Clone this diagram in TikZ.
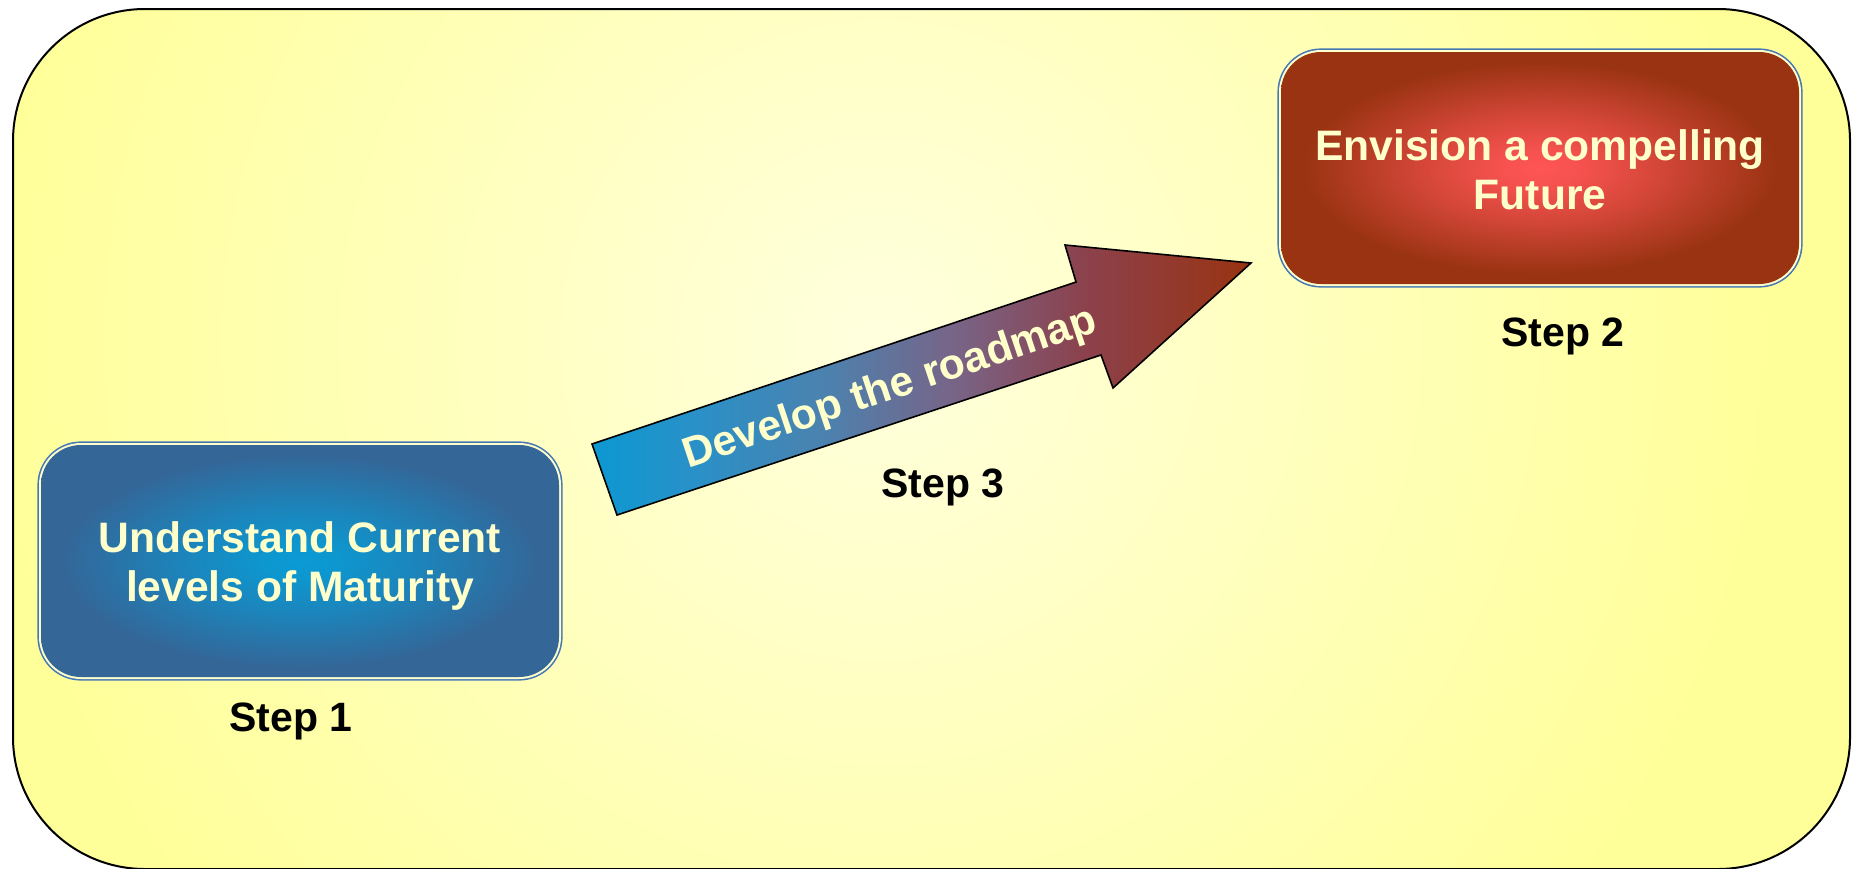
\documentclass[tikz,border=0pt]{standalone}
\usepackage{fontspec}
\setmainfont{Liberation Sans}

% palette
\definecolor{bgedge}{RGB}{255,255,153}
\definecolor{bgcenter}{RGB}{255,255,222}
\definecolor{cream}{RGB}{255,255,204}
\definecolor{frameblue}{RGB}{70,120,180}
\definecolor{bluemid}{RGB}{10,155,212}
\definecolor{blueedge}{RGB}{52,102,152}
\definecolor{redmid}{RGB}{255,85,85}
\definecolor{rededge}{RGB}{153,51,17}
\definecolor{roadA}{RGB}{12,152,210}
\definecolor{roadB}{RGB}{40,145,200}
\definecolor{roadC}{RGB}{75,130,175}
\definecolor{roadD}{RGB}{120,100,135}
\definecolor{roadE}{RGB}{140,65,75}
\definecolor{roadF}{RGB}{153,51,17}

% glowing fills of the two step boxes and the road arrow
% (the central 50bp of each shading covers the filled shape)
\pgfdeclareradialshading{bluegrad}{\pgfpoint{0bp}{0bp}}{color(0bp)=(bluemid); color(4bp)=(bluemid!90!blueedge); color(12bp)=(bluemid!55!blueedge); color(23bp)=(blueedge); color(50bp)=(blueedge)}
\pgfdeclareradialshading{redgrad}{\pgfpoint{0bp}{0bp}}{color(0bp)=(redmid); color(4bp)=(redmid!90!rededge); color(12bp)=(redmid!55!rededge); color(23bp)=(rededge); color(50bp)=(rededge)}
\pgfdeclarehorizontalshading{roadgrad}{100bp}{color(0bp)=(roadA); color(25bp)=(roadA); color(32.5bp)=(roadB); color(42.5bp)=(roadC); color(52.5bp)=(roadD); color(62.5bp)=(roadE); color(75bp)=(roadF); color(100bp)=(roadF)}

\tikzset{
  stepbox/.style={rounded corners=20pt, minimum width=259pt, minimum height=116pt,
    inner sep=0pt,
    preaction={draw=frameblue, line width=3.6pt},
    preaction={draw=cream, line width=2pt}, shade},
  boxtext/.style={align=center, text=cream, inner sep=0pt,
    font=\bfseries\fontsize{21.3}{24.5}\selectfont},
  steplabel/.style={font=\bfseries\fontsize{20.5}{24}\selectfont, text=black},
  roadtext/.style={font=\bfseries\fontsize{21.3}{25}\selectfont, text=cream},
}

\begin{document}
\begin{tikzpicture}[x=0.5pt, y=-0.5pt]
\useasboundingbox (0,0) rectangle (1856,868);

% background panel with a soft glow
\begin{scope}
  \clip[rounded corners=66pt] (13,9) rectangle (1850,869);
  \fill[bgedge] (0,0) rectangle (1856,880);
  \shade[inner color=bgcenter, outer color=bgedge] (880,340) circle (900);
\end{scope}
\draw[rounded corners=66pt, line width=1pt] (13,9) rectangle (1850,869);

% road arrow
\draw[line width=0.8pt, shade, shading=roadgrad]
  (617,515) -- (592,444) -- (1076,282) -- (1065,245) -- (1251,263)
  -- (1113,388) -- (1101,355) -- cycle;
\node[roadtext, rotate=18.5] (road) at (890,389) {Develop the roadmap};

% step boxes
\node[stepbox, shading=bluegrad] (s1) at (300,561) {};
\node[boxtext, yshift=-2.7pt] (t1) at (s1.center) {Understand Current\\levels of Maturity};
\node[stepbox, shading=redgrad] (s2) at (1540,168) {};
\node[boxtext, yshift=-1pt] (t2) at (s2.center) {Envision a compelling\\Future};

% step captions
\node[steplabel] (l1) at (291,721) {Step 1};
\node[steplabel] (l2) at (1563,336) {Step 2};
\node[steplabel] (l3) at (943,487) {Step 3};
\end{tikzpicture}
\end{document}
